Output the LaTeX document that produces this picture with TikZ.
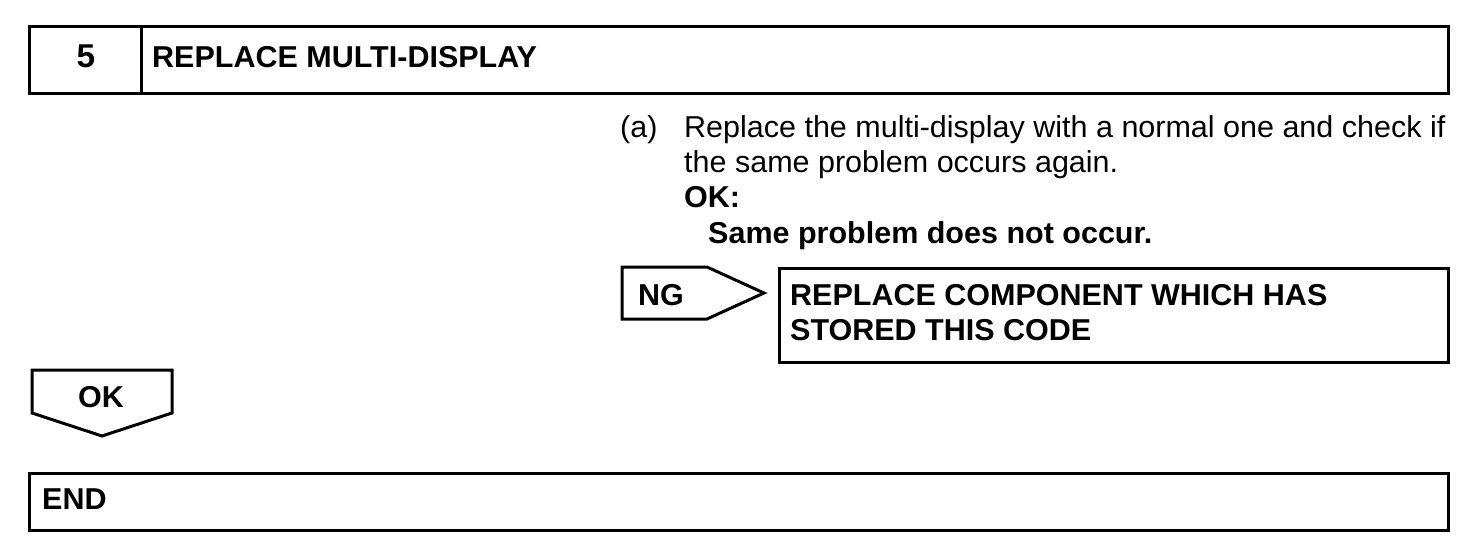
\documentclass[tikz,border=0pt]{standalone}
\usepackage{fontspec}
\setmainfont{Liberation Sans}[FakeStretch=1.01]
\tikzset{
  frame/.style={draw=black, line width=3pt, inner sep=0pt, anchor=north west},
  txt/.style={anchor=base west, inner sep=0pt, font=\fontsize{30.2}{35}\selectfont},
  btxt/.style={txt, font=\fontsize{30.2}{35}\selectfont\bfseries},
  outline/.style={draw=black, line width=3pt, line join=miter}
}
\begin{document}
\begin{tikzpicture}[x=1pt,y=-1pt]
\useasboundingbox (0,0) rectangle (1472,554);
% header
\node[frame, minimum width=112pt, minimum height=67pt] (num) at (28,25) {};
\node[frame, minimum width=1307pt, minimum height=67pt] (hdr) at (140,25) {};
\node[btxt, anchor=base, font=\fontsize{33}{35}\selectfont\bfseries] (five) at (86,67) {5};
\node[btxt] (title) at (152,67) {REPLACE MULTI-DISPLAY};
% instructions
\node[txt] (a) at (620,137) {(a)};
\node[txt] (l1) at (684,137) {Replace the multi-display with a normal one and check if};
\node[txt] (l2) at (684,172) {the same problem occurs again.};
\node[btxt] (ok1) at (684,207) {OK:};
\node[btxt] (ok2) at (708,243) {Same problem does not occur.};
% NG arrow
\coordinate (ng1) at (622,267);
\coordinate (ng2) at (707,267);
\coordinate (ngtip) at (764,293);
\coordinate (ng3) at (707,319);
\coordinate (ng4) at (622,319);
\draw[outline] (ng1) -- (ng2) -- (ngtip) -- (ng3) -- (ng4) -- cycle;
\node[btxt] (ng) at (638,305) {NG};
% replace box
\node[frame, minimum width=669pt, minimum height=94pt] (rep) at (778,267) {};
\node[btxt] (r1) at (790,305) {REPLACE COMPONENT WHICH HAS};
\node[btxt] (r2) at (790,340) {STORED THIS CODE};
% OK arrow
\coordinate (ok1a) at (32,370);
\coordinate (ok1b) at (172,370);
\coordinate (ok1c) at (172,413);
\coordinate (oktip) at (102,436);
\coordinate (ok1d) at (32,413);
\draw[outline] (ok1a) -- (ok1b) -- (ok1c) -- (oktip) -- (ok1d) -- cycle;
\node[btxt] (ok) at (78,407) {OK};
% END
\node[frame, minimum width=1419pt, minimum height=57pt] (endbox) at (28,472) {};
\node[btxt] (end) at (42,509) {END};
\end{tikzpicture}
\end{document}
